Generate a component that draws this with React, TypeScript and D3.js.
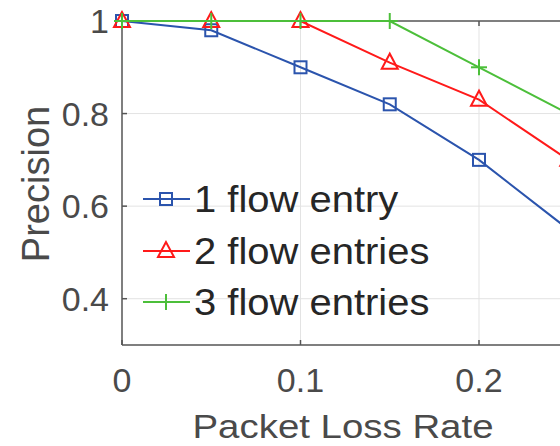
import React from "react";
import * as d3 from "d3";

const lossRates = [0, 0.05, 0.1, 0.15, 0.2, 0.25];
const oneEntry = [1.0, 0.98, 0.9, 0.82, 0.7, 0.55];
const twoEntries = [1.0, 1.0, 1.0, 0.91, 0.83, 0.7];
const threeEntries = [1.0, 1.0, 1.0, 1.0, 0.9, 0.8];
const seriesNames = ["1 flow entry", "2 flow entries", "3 flow entries"];
const xTicks = [0, 0.1, 0.2];
const yTicks = [0.4, 0.6, 0.8, 1];

const W = 560;
const H = 446;
const FONT = "'Liberation Sans', Arial, Helvetica, sans-serif";
const COLORS = ["#2b54ad", "#ff1a1a", "#4cbf3a"];
const MARKERS = ["square", "triangle", "plus"];

function Marker({ type, x, y, color }: { type: string; x: number; y: number; color: string }) {
  if (type === "square") {
    return <rect x={x - 6} y={y - 6} width={12} height={12} fill="none" stroke={color} strokeWidth={2} />;
  }
  if (type === "triangle") {
    const p = `${x},${y - 9} ${x - 8},${y + 6} ${x + 8},${y + 6}`;
    return <polygon points={p} fill="none" stroke={color} strokeWidth={2} />;
  }
  return (
    <g stroke={color} strokeWidth={2}>
      <line x1={x - 8} x2={x + 8} y1={y} y2={y} />
      <line x1={x} x2={x} y1={y - 8} y2={y + 8} />
    </g>
  );
}

export default function App() {
  const x = d3.scaleLinear().domain([0, 0.3]).range([122, 657.5]);
  const y = d3.scaleLinear().domain([0.3, 1]).range([345, 21]);
  const data = [oneEntry, twoEntries, threeEntries];
  const line = d3
    .line<number>()
    .x((_, i) => x(lossRates[i]))
    .y((d) => y(d));

  const legendY = [199, 251, 302];
  const [x0, x1] = x.domain();
  const [y0, y1] = y.domain();

  return (
    <svg
      width={W}
      height={H}
      style={{ position: "absolute", left: 0, top: 0, background: "#fff" }}
    >
      {/* grid */}
      {xTicks.filter((t) => t > 0).map((t) => (
        <line key={"gx" + t} x1={x(t)} x2={x(t)} y1={y(y0)} y2={y(y1)} stroke="#e3e3e3" strokeWidth={1} />
      ))}
      {yTicks.filter((t) => t < 1).map((t) => (
        <line key={"gy" + t} x1={x(x0)} x2={x(x1)} y1={y(t)} y2={y(t)} stroke="#e3e3e3" strokeWidth={1} />
      ))}
      {/* axes box */}
      <line x1={x(x0)} x2={x(x1)} y1={y(y0)} y2={y(y0)} stroke="#555" strokeWidth={1.5} />
      <line x1={x(x0)} x2={x(x1)} y1={y(y1)} y2={y(y1)} stroke="#555" strokeWidth={1.5} />
      <line x1={x(x0)} x2={x(x0)} y1={y(y0)} y2={y(y1)} stroke="#555" strokeWidth={1.5} />
      {/* ticks */}
      {xTicks.map((t) => (
        <g key={"tx" + t}>
          <line x1={x(t)} x2={x(t)} y1={y(y0)} y2={y(y0) - 5} stroke="#555" strokeWidth={1.5} />
          <line x1={x(t)} x2={x(t)} y1={y(y1)} y2={y(y1) + 5} stroke="#555" strokeWidth={1.5} />
          <text
            x={x(t)}
            y={392}
            textAnchor="middle"
            fontFamily={FONT}
            fontSize={34}
            fill="#4a4a4a"
          >
            {String(t)}
          </text>
        </g>
      ))}
      {yTicks.map((t) => (
        <g key={"ty" + t}>
          <line x1={x(x0)} x2={x(x0) + 5} y1={y(t)} y2={y(t)} stroke="#555" strokeWidth={1.5} />
          <text
            x={109}
            y={y(t) + 12}
            textAnchor="end"
            fontFamily={FONT}
            fontSize={34}
            fill="#4a4a4a"
          >
            {String(t)}
          </text>
        </g>
      ))}
      {/* axis labels */}
      <text
        transform="translate(343,438) scale(1.13,1)"
        textAnchor="middle"
        fontFamily={FONT}
        fontSize={34}
        fill="#4a4a4a"
      >
        Packet Loss Rate
      </text>
      <text
        transform={`translate(49,184) rotate(-90)`}
        textAnchor="middle"
        fontFamily={FONT}
        fontSize={38}
        fill="#4a4a4a"
      >
        Precision
      </text>
      {/* series */}
      {data.map((s, si) => (
        <g key={"s" + si}>
          <path d={line(s) || ""} fill="none" stroke={COLORS[si]} strokeWidth={2} />
          {s.map((v, i) => (
            <Marker key={i} type={MARKERS[si]} x={x(lossRates[i])} y={y(v)} color={COLORS[si]} />
          ))}
        </g>
      ))}
      {/* legend */}
      {seriesNames.map((name, si) => (
        <g key={"l" + si}>
          <line x1={143} x2={190} y1={legendY[si]} y2={legendY[si]} stroke={COLORS[si]} strokeWidth={2} />
          <Marker type={MARKERS[si]} x={166} y={legendY[si]} color={COLORS[si]} />
          <text
            transform={`translate(194,${legendY[si] + 13}) scale(1.08,1)`}
            fontFamily={FONT}
            fontSize={37}
            fill="#262626"
          >
            {name}
          </text>
        </g>
      ))}
    </svg>
  );
}
